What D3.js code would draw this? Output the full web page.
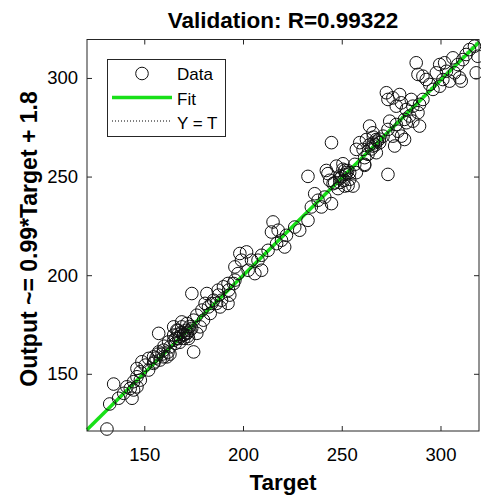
<!DOCTYPE html>
<html>
<head>
<meta charset="utf-8">
<script src="https://cdn.jsdelivr.net/npm/d3@7"></script>
<style>
  html, body { margin: 0; padding: 0; background: #fff; }
  svg { display: block; font-family: "Liberation Sans", Arial, sans-serif; }
</style>
</head>
<body>
<div id="chart"></div>
<script>
const targets = [
  131.1, 134.5, 132.5, 137.0, 143.8, 142.9, 144.6, 146.3, 148.0, 146.3, 150.5, 148.8, 152.2, 154.7, 157.3, 159.8,
  161.5, 157.3, 163.1, 162.3, 165.7, 167.4, 166.5, 169.0, 171.6, 169.9, 172.4, 175.0, 173.2, 175.0, 176.6, 178.3,
  179.2, 180.8, 174.1, 181.7, 183.4, 185.1, 187.6, 188.4, 190.1, 192.7, 195.2, 169.0, 164.9, 159.8, 154.7, 152.2,
  148.0, 141.2, 139.6, 144.6, 146.3, 164.9, 171.6, 176.6, 180.0, 182.5, 184.2,
  166, 167, 168, 169, 170, 171, 172, 170, 168, 167, 165, 173, 174, 172, 156, 157, 158, 155, 159, 160, 162, 163,
  187.4, 189.1, 192.4, 193.3, 186.6, 195.9, 192.4, 197.5, 195.9, 199.2, 198.4, 201.8, 202.6, 206.0, 209.4, 204.3,
  207.6, 209.4, 212.7, 217.0, 221.1, 219.5, 222.0, 215.2, 214.4, 217.8, 226.2, 228.7, 232.9, 234.6, 236.3, 238.0,
  239.7, 241.4, 244.8, 232.9, 243.0, 245.6, 249.0, 251.5, 253.2, 248.1, 250.6, 242.2, 243.9,
  244.8, 247.3, 250.6, 249.0, 252.4, 254.0, 255.7, 246.4, 251.5, 257.4, 256.6, 261.6, 259.1, 257.4, 260.8, 262.5,
  264.1, 265.8, 267.5, 265.8, 269.2, 270.9, 267.5, 263.3, 261.6, 273.4, 272.6, 273.4, 275.9, 279.3, 280.2, 277.6,
  282.7, 286.0, 289.4, 291.1, 288.6, 284.4, 281.8, 277.6, 274.3, 273.4, 278.5, 280.2, 275.9, 276.8, 281.8, 289.4,
  286.0, 287.7, 288.6, 299.6, 302.1, 306.3, 308.8, 307.1, 309.7, 310.5, 304.6, 301.2, 299.6, 296.2, 292.8, 291.1,
  294.5, 297.9, 303.0, 314.7, 317.2, 318.9, 318.1, 313.0, 311.3, 282.7, 285.2, 261.6,
  266, 267, 268, 265, 264, 269, 266, 250, 252, 253, 251, 254, 249
];
const outputs = [
  122.0, 144.8, 134.7, 137.6, 137.6, 142.6, 146.0, 148.5, 151.0, 152.7, 154.4, 156.1, 157.8, 158.6, 161.1, 162.0,
  158.6, 170.5, 163.7, 166.2, 165.4, 167.9, 172.1, 173.8, 175.5, 169.6, 167.9, 161.1, 172.1, 177.2, 179.7, 173.8,
  182.3, 185.7, 190.7, 190.7, 180.6, 187.3, 189.9, 183.9, 194.1, 192.4, 195.8, 176.3, 169.6, 158.6, 155.3, 151.9,
  146.8, 143.4, 140.1, 141.8, 143.4, 173.8, 170.5, 170.5, 177.2, 183.9, 185.7,
  168, 170, 169, 171, 170, 172, 171, 168, 166, 172, 167, 174, 173, 169, 158, 160, 157, 156, 160, 164, 161, 160,
  192.4, 187.3, 185.7, 189.9, 185.7, 197.5, 195.8, 200.8, 204.2, 207.6, 211.0, 211.8, 202.5, 200.8, 202.5, 207.6,
  207.6, 210.1, 212.6, 216.0, 214.3, 217.7, 220.2, 227.0, 221.9, 222.8, 224.4, 222.8, 227.8, 234.6, 241.3, 238.0,
  234.6, 239.6, 236.3, 250.1, 251.5, 246.4, 248.9, 253.1, 245.5, 243.9, 256.5, 253.1, 248.1,
  267.2, 255.3, 253.7, 250.3, 252.0, 248.6, 245.2, 246.9, 245.2, 252.0, 256.2, 256.2, 267.2, 263.8, 263.8, 268.8,
  275.6, 272.2, 268.8, 265.5, 267.2, 270.5, 262.1, 261.3, 259.6, 251.1, 292.5, 289.1, 289.9, 291.6, 287.4, 285.7,
  284.0, 285.7, 286.6, 289.1, 282.4, 280.7, 279.0, 276.4, 278.1, 273.9, 273.0, 270.5, 270.5, 265.5, 268.8, 275.6,
  278.1, 307.7, 301.8, 306.8, 307.7, 310.2, 306.8, 302.6, 300.1, 298.4, 298.4, 299.2, 295.8, 294.2, 299.2, 300.9,
  296.7, 302.6, 303.4, 314.4, 316.1, 311.0, 302.6, 311.9, 309.3, 277.3, 289.1, 255.7,
  267, 266, 268, 264, 266, 269, 270, 250, 251, 253, 248, 252, 247
];
const axisLimits = [121, 319.5];
const tickValues = [150, 200, 250, 300];
const fitSlope = 0.99;
const fitIntercept = 1.8;
const titleText = 'Validation: R=0.99322';
const legendLabels = ['Data', 'Fit', 'Y = T'];

const W = 481, H = 495;
const plot = { left: 87, right: 479, top: 39.5, bottom: 431 };
const GREEN = '#18e018';

const svg = d3.select('#chart').append('svg')
  .attr('width', W)
  .attr('height', H);

const x = d3.scaleLinear().domain(axisLimits).range([plot.left, plot.right]);
const y = d3.scaleLinear().domain(axisLimits).range([plot.bottom, plot.top]);

// Y = T reference (dotted) and fit line
const lineGen = d3.line().x(d => x(d[0])).y(d => y(d[1]));
svg.append('path')
  .datum(axisLimits.map(v => [v, v]))
  .attr('fill', 'none')
  .attr('stroke', '#000')
  .attr('stroke-width', 1)
  .attr('stroke-dasharray', '1 2')
  .attr('d', lineGen);

svg.append('path')
  .datum(axisLimits.map(v => [v, fitSlope * v + fitIntercept]))
  .attr('fill', 'none')
  .attr('stroke', GREEN)
  .attr('stroke-width', 3.5)
  .attr('d', lineGen);

// Data circles
svg.append('g')
  .selectAll('circle')
  .data(targets.map((t, i) => [t, outputs[i]]))
  .join('circle')
  .attr('cx', d => x(d[0]))
  .attr('cy', d => y(d[1]))
  .attr('r', 6.3)
  .attr('fill', 'none')
  .attr('stroke', '#111')
  .attr('stroke-width', 1);

// Axes (ticks point inward)
const styleAxis = g => {
  g.select('.domain').remove();
  g.selectAll('line').attr('stroke', '#262626');
  g.selectAll('text').attr('fill', '#000').attr('font-size', '18.5px')
    .attr('font-family', '"Liberation Sans", Arial, sans-serif');
};

svg.append('g')
  .attr('transform', `translate(0,${plot.bottom})`)
  .call(d3.axisBottom(x).tickValues(tickValues).tickSize(-5).tickPadding(16.5))
  .call(styleAxis);

svg.append('g')
  .attr('transform', `translate(${plot.left},0)`)
  .call(d3.axisLeft(y).tickValues(tickValues).tickSize(-5).tickPadding(9))
  .call(styleAxis);

svg.append('g')
  .attr('transform', `translate(0,${plot.top})`)
  .call(d3.axisTop(x).tickValues(tickValues).tickSize(-5).tickFormat(''))
  .call(styleAxis);

svg.append('g')
  .attr('transform', `translate(${plot.right},0)`)
  .call(d3.axisRight(y).tickValues(tickValues).tickSize(-5).tickFormat(''))
  .call(styleAxis);

svg.append('rect')
  .attr('x', plot.left)
  .attr('y', plot.top)
  .attr('width', plot.right - plot.left)
  .attr('height', plot.bottom - plot.top)
  .attr('fill', 'none')
  .attr('stroke', '#262626')
  .attr('stroke-width', 1);

// Title and labels
svg.append('text')
  .attr('x', (plot.left + plot.right) / 2)
  .attr('y', 28)
  .attr('text-anchor', 'middle')
  .attr('font-size', '22.5px')
  .attr('font-weight', 'bold')
  .text(titleText);

svg.append('text')
  .attr('x', (plot.left + plot.right) / 2)
  .attr('y', 490)
  .attr('text-anchor', 'middle')
  .attr('font-size', '22.5px')
  .attr('font-weight', 'bold')
  .text('Target');

svg.append('text')
  .attr('transform', `translate(37,239) rotate(-90)`)
  .attr('text-anchor', 'middle')
  .attr('font-size', '23px')
  .attr('font-weight', 'bold')
  .text(`Output ~= ${fitSlope}*Target + ${fitIntercept}`);

// Legend
const legend = svg.append('g');
legend.append('rect')
  .attr('x', 107.5)
  .attr('y', 59.5)
  .attr('width', 118)
  .attr('height', 77)
  .attr('fill', '#fff')
  .attr('stroke', '#262626')
  .attr('stroke-width', 1);

legend.append('circle')
  .attr('cx', 142)
  .attr('cy', 73.5)
  .attr('r', 6.3)
  .attr('fill', 'none')
  .attr('stroke', '#111');

legend.append('line')
  .attr('x1', 112).attr('x2', 172)
  .attr('y1', 97.5).attr('y2', 97.5)
  .attr('stroke', GREEN)
  .attr('stroke-width', 3.5);

legend.append('line')
  .attr('x1', 112).attr('x2', 172)
  .attr('y1', 121).attr('y2', 121)
  .attr('stroke', '#000')
  .attr('stroke-width', 1)
  .attr('stroke-dasharray', '1 2');

legend.selectAll('text.leg')
  .data(legendLabels)
  .join('text')
  .attr('class', 'leg')
  .attr('x', 177)
  .attr('y', (d, i) => 80 + i * 24.5)
  .attr('font-size', '17px')
  .attr('fill', '#000')
  .text(d => d);
</script>
</body>
</html>
